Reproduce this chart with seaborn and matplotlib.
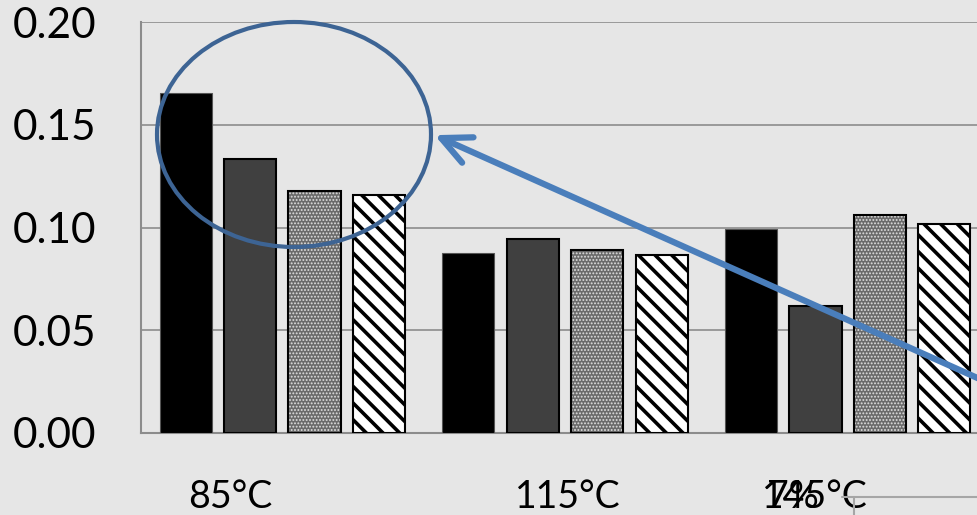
import numpy as np
import pandas as pd
import matplotlib
matplotlib.use("Agg")
import matplotlib.pyplot as plt
import seaborn as sns
from matplotlib.patches import Ellipse, FancyArrowPatch, Rectangle
from matplotlib.lines import Line2D
from matplotlib.transforms import blended_transform_factory

# ---- data ----
categories = ["85°C", "115°C", "145°C"]
series_names = ["S1", "S2", "S3", "S4"]
s1 = [0.1655, 0.0876, 0.0993]
s2 = [0.1333, 0.0944, 0.0618]
s3 = [0.1178, 0.0890, 0.1060]
s4 = [0.1158, 0.0866, 0.1019]
yticks = [0.00, 0.05, 0.10, 0.15, 0.20]
ytick_labels = ["0.00", "0.05", "0.10", "0.15", "0.20"]
extra_label = "7%"

rows = []
for name, vals in zip(series_names, [s1, s2, s3, s4]):
    for c, v in zip(categories, vals):
        rows.append({"cat": c, "series": name, "value": v})
df = pd.DataFrame(rows)

sns.set_style("white")
plt.rcParams["font.family"] = ["Lato", "DejaVu Sans"]
BG = "#e6e6e6"
GRID = "#8c8c8c"

fig = plt.figure(figsize=(9.78, 5.15), dpi=100, facecolor=BG)
ax = fig.add_axes([141 / 978, 1 - 433 / 515, 848 / 978, (433 - 22) / 515])
ax.set_facecolor(BG)

sns.barplot(data=df, x="cat", y="value", hue="series", order=categories,
            hue_order=series_names, width=0.912, gap=0.19, legend=False,
            errorbar=None, ax=ax, saturation=1)

ax.set_xlim(-0.5, 2.5)
ax.set_ylim(0, 0.20)
ax.set_yticks(yticks)
ax.set_yticklabels(ytick_labels, fontsize=30.5)
ax.tick_params(axis="y", length=0, pad=32, labelcolor="black")
ax.set_xticks([])
ax.set_xlabel("")
ax.set_ylabel("")
ax.yaxis.grid(True, color=GRID, lw=1.2)
ax.set_axisbelow(True)
for s in ["top", "right"]:
    ax.spines[s].set_visible(False)
for s in ["left", "bottom"]:
    ax.spines[s].set_color(GRID)
    ax.spines[s].set_linewidth(1.5)
ax.spines["bottom"].set_zorder(0.5)

for k, cont in enumerate(ax.containers):
    for p in cont.patches:
        if k == 0:
            p.set_facecolor("black"); p.set_edgecolor("#555555"); p.set_linewidth(0.8)
        elif k == 1:
            p.set_facecolor("#404040"); p.set_edgecolor("black"); p.set_linewidth(1.5)
        elif k == 2:
            p.set_facecolor("#6a6a6a"); p.set_edgecolor("#e0e0e0"); p.set_linewidth(0)
            p.set_hatch(".....")
            if hasattr(p, "set_hatch_linewidth"):
                p.set_hatch_linewidth(0.9)
            ax.add_patch(Rectangle((p.get_x(), p.get_y()), p.get_width(), p.get_height(),
                                   fill=False, edgecolor="black", lw=1.5, zorder=p.get_zorder() + 0.1))
        else:
            p.set_facecolor("white"); p.set_edgecolor("black"); p.set_linewidth(1.5)
            p.set_hatch("\\\\")
            if hasattr(p, "set_hatch_linewidth"):
                p.set_hatch_linewidth(2.6)

# category labels below axis
label_offsets = [-0.186, 0.009, -0.115]
tr = blended_transform_factory(ax.transData, fig.transFigure)
for i, (c, off) in enumerate(zip(categories, label_offsets)):
    ax.text(i + off, 1 - 508 / 515, c, transform=tr, ha="center", va="baseline",
            fontsize=27, color="black", clip_on=False)
fig.text(767 / 978, 1 - 508 / 515, extra_label, ha="left", va="baseline",
         fontsize=27, color="black")

# small stray lines at bottom right
fig.add_artist(Line2D([842 / 978, 1.0], [1 - 497 / 515, 1 - 497 / 515],
                      transform=fig.transFigure, color="#a6a6a6", lw=1.5))
fig.add_artist(Line2D([854 / 978, 854 / 978], [1 - 497 / 515, 0],
                      transform=fig.transFigure, color="#a6a6a6", lw=1.5))

# ellipse
fig.add_artist(Ellipse((294 / 978, 1 - 134.5 / 515), 274 / 978, 225 / 515,
                       transform=fig.transFigure, fill=False,
                       edgecolor="#3d6494", lw=3.0))
# arrow
arr = FancyArrowPatch((1.02, 1 - 387 / 515), (432 / 978, 1 - 134 / 515),
                      transform=fig.transFigure,
                      arrowstyle="->,head_length=1.05,head_width=0.5",
                      mutation_scale=20, color="#4a7ebb", lw=4.5,
                      capstyle="round", joinstyle="round")
fig.add_artist(arr)

fig.savefig("out.png", dpi=100, facecolor=BG)
